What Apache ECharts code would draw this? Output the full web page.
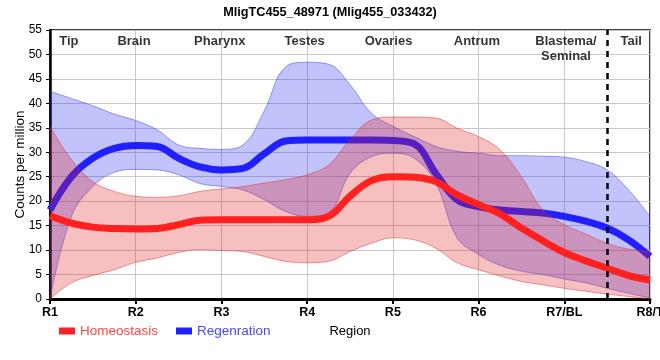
<!DOCTYPE html>
<html><head><meta charset="utf-8">
<script src="https://cdn.jsdelivr.net/npm/echarts@6/dist/echarts.min.js"></script>
<style>html,body{margin:0;padding:0;background:#fff}#c{width:660px;height:360px}</style>
</head><body><div id="c"></div>
<script>
// quarter-step positions along the body: regions R1..R8 and three points between each pair
var positions = ['R1','','','','R2','','','','R3','','','','R4','','','','R5','','','','R6','','','','R7/BL','','','','R8/T'];
var homeoMean = [17.0,15.5,14.7,14.4,14.3,14.4,15.2,16.1,16.2,16.2,16.2,16.2,16.2,16.9,21.0,24.2,25.0,24.9,24.0,21.3,19.3,17.4,14.5,11.9,9.5,7.8,6.3,4.8,3.9];
var homeoLow  = [0,3.3,4.8,6.0,7.5,8.4,9.5,10.1,9.9,9.7,8.7,7.7,7.4,7.7,9.7,11.4,12.5,12.1,10.4,7.4,6.0,4.7,3.6,2.9,2.2,1.6,1.0,0.5,0];
var homeoHigh = [35.3,28.5,24.0,22.0,21.0,20.8,21.1,22.0,22.5,23.0,23.7,24.4,25.4,27.4,32.5,36.6,37.2,37.2,37.0,34.9,33.2,30.5,25.0,18.2,15.2,13.3,11.4,10.2,9.7];
var regenMean = [18.2,25.0,28.8,30.8,31.4,31.2,28.8,27.0,26.4,26.7,29.7,32.3,32.5,32.5,32.5,32.5,32.4,31.7,25.7,20.3,18.9,18.2,17.9,17.6,16.9,15.9,14.5,12.1,8.7];
var regenLow  = [0,16.9,23.0,25.9,26.5,26.4,25.4,23.6,23.0,22.3,20.3,17.9,16.9,17.6,25.7,29.1,29.8,28.8,23.7,12.5,9.1,6.9,5.7,5.0,4.1,3.3,2.2,1.2,0.2];
var regenHigh = [42.5,41.0,39.5,37.8,36.5,34.6,31.5,30.8,30.6,31.5,38.5,47.5,48.4,48.0,43.8,38.0,35.3,33.2,31.2,30.2,29.8,29.3,29.3,29.2,29.0,28.1,26.4,22.3,16.9];
var regionNames = ['Tip','Brain','Pharynx','Testes','Ovaries','Antrum','Blastema/\nSeminal','Tail'];
var regionPos = [0.22,0.98,1.98,2.97,3.95,4.98,6.02,6.78];
var tailBoundary = 26; // index in positions, between R7/BL and R8/T

function diffs(hi, lo){ return hi.map(function(v,i){ return +(v - lo[i]).toFixed(2); }); }

var FONT = '"Liberation Sans", Arial, sans-serif';
var SM = 0.4;
var chart = echarts.init(document.getElementById('c'), null, {renderer:'canvas'});
chart.setOption({
  animation:false,
  title:{text:'MligTC455_48971 (Mlig455_033432)', left:'center', top:1,
    textStyle:{fontFamily:FONT, fontSize:12.7, fontWeight:'bold', color:'#000'}},
  grid:{left:50, right:10, top:30, bottom:61, containLabel:false, outerBoundsMode:'none',
    show:true, borderColor:'#000', borderWidth:1.5},
  legend:{left:54, top:319, itemWidth:16, itemHeight:7, itemGap:18, icon:'rect',
    data:[{name:'Homeostasis', textStyle:{color:'#ff4646'}},{name:'Regenration', textStyle:{color:'#4646ff'}}],
    textStyle:{fontFamily:FONT, fontSize:13.5}},
  xAxis:[{type:'category', data:positions, boundaryGap:false, name:'Region', nameLocation:'middle', nameGap:26,
    nameMoveOverlap:false,
    nameTextStyle:{fontFamily:FONT, fontSize:13, color:'#000'},
    axisLine:{lineStyle:{color:'#000', width:3}},
    axisTick:{show:true, interval:3, length:5, lineStyle:{color:'#000', width:2}},
    axisLabel:{interval:3, fontFamily:FONT, fontSize:12.5, fontWeight:'bold', color:'#000', margin:7},
    splitLine:{show:true, interval:3, lineStyle:{color:'#c8c8c8', width:1}}},
   {type:'value', min:0, max:7, show:false}],
  yAxis:{type:'value', min:0, max:55, interval:5, name:'Counts per million', nameLocation:'middle', nameGap:23,
    nameMoveOverlap:false,
    nameTextStyle:{fontFamily:FONT, fontSize:13.5, color:'#000'},
    axisLine:{show:true, lineStyle:{color:'#000', width:2.5}},
    axisTick:{show:true, length:4, lineStyle:{color:'#000', width:1}},
    axisLabel:{fontFamily:FONT, fontSize:12, color:'#000', margin:8},
    splitLine:{show:true, lineStyle:{color:'#c8c8c8', width:1}}},
  series:[
    {name:'rLow', type:'line', stack:'rb', smooth:SM, symbol:'none', data:regenLow,
      lineStyle:{width:1, color:'rgba(60,60,240,0.5)'}, z:1},
    {name:'rBand', type:'line', stack:'rb', smooth:SM, symbol:'none', data:diffs(regenHigh, regenLow),
      lineStyle:{width:1, color:'rgba(60,60,240,0.5)'}, areaStyle:{color:'rgba(40,40,240,0.4)'}, z:1},
    {name:'Regenration', type:'line', smooth:SM, symbol:'none', data:regenMean,
      itemStyle:{color:'#2020ff'}, lineStyle:{width:7, color:'#2020ff'}, z:2},
    {name:'hLow', type:'line', stack:'hb', smooth:SM, symbol:'none', data:homeoLow,
      lineStyle:{width:1, color:'rgba(220,50,50,0.5)'}, z:3},
    {name:'hBand', type:'line', stack:'hb', smooth:SM, symbol:'none', data:diffs(homeoHigh, homeoLow),
      lineStyle:{width:1, color:'rgba(220,50,50,0.5)'}, areaStyle:{color:'rgba(225,30,30,0.4)'}, z:3},
    {name:'Homeostasis', type:'line', smooth:SM, symbol:'none', data:homeoMean,
      itemStyle:{color:'#ff2020'}, lineStyle:{width:7, color:'#ff2020'}, z:4,
      markLine:{silent:true, symbol:'none', label:{show:false},
        lineStyle:{color:'#000', type:[6,5], width:2.5},
        data:[{xAxis:tailBoundary}]}},
    {name:'regions', type:'scatter', xAxisIndex:1, symbolSize:0, z:5, silent:true,
      data:regionNames.map(function(n,i){ return {value:[regionPos[i], 55], name:n}; }),
      label:{show:true, position:'bottom', distance:4, formatter:function(p){ return p.name; },
        fontFamily:FONT, fontSize:13, fontWeight:'bold', color:'#000', lineHeight:15, align:'center'}}
  ]
});
</script></body></html>
